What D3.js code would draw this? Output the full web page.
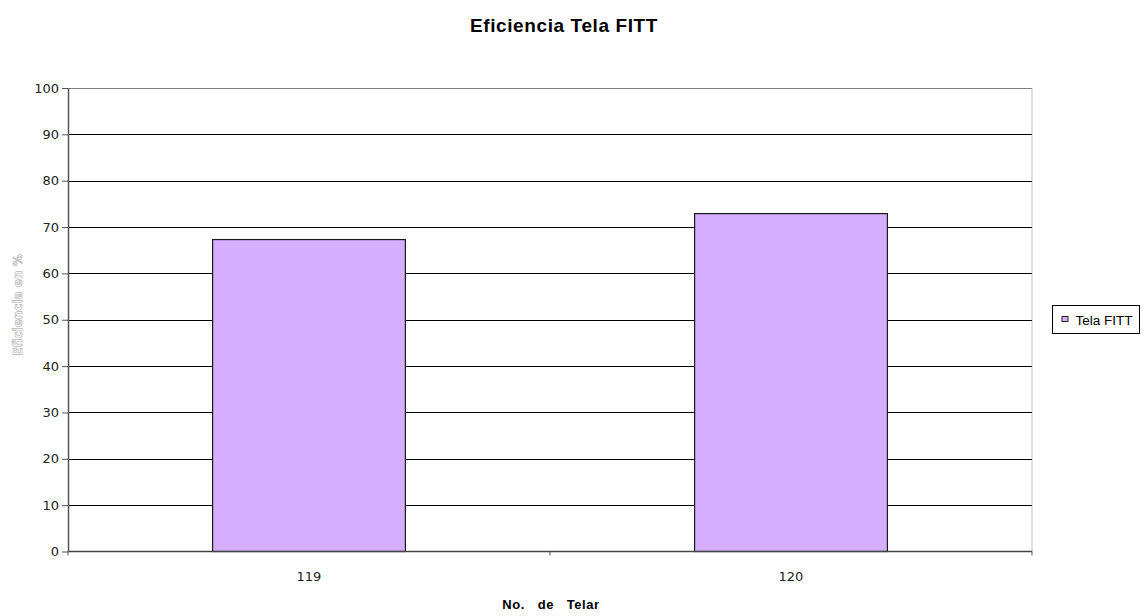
<!DOCTYPE html>
<html>
<head>
<meta charset="utf-8">
<script src="https://cdn.jsdelivr.net/npm/d3@7"></script>
<style>
  html, body { margin: 0; padding: 0; background: #fff; }
  svg { display: block; }
</style>
</head>
<body>
<svg id="chart" width="1145" height="616"></svg>
<script>
// Loom efficiency data
const categories = ["119", "120"];
const seriesName = "Tela FITT";
const values = [67.3, 72.9];
const yTicks = [0, 10, 20, 30, 40, 50, 60, 70, 80, 90, 100];

const svg = d3.select("#chart");
const plot = { left: 68, right: 1032, top: 88, bottom: 551.5 };

const x = d3.scaleBand().domain(categories).range([plot.left, plot.right]).padding(0);
const y = d3.scaleLinear().domain([0, 100]).range([plot.bottom, plot.top]);
const barW = x.bandwidth() * 0.4;

const tickFont = "'DejaVu Sans', Verdana, sans-serif";
const headFont = "'Liberation Sans', Arial, sans-serif";

// Title
svg.append("text")
  .attr("x", 564).attr("y", 32)
  .attr("text-anchor", "middle")
  .attr("font-family", headFont)
  .attr("font-weight", "bold").attr("font-size", 19)
  .attr("letter-spacing", 0.6)
  .attr("fill", "#000")
  .text("Eficiencia Tela FITT");

// Plot frame (right light border)
svg.append("line")
  .attr("x1", plot.right).attr("x2", plot.right)
  .attr("y1", plot.top).attr("y2", plot.bottom)
  .attr("stroke", "#c0c0c0").attr("stroke-width", 1);

// Horizontal gridlines
svg.append("g").selectAll("line").data(yTicks.filter(d => d > 0)).join("line")
  .attr("x1", plot.left).attr("x2", plot.right)
  .attr("y1", d => Math.round(y(d)) + 0.5).attr("y2", d => Math.round(y(d)) + 0.5)
  .attr("stroke", d => d === 100 ? "#808080" : "#000")
  .attr("stroke-width", 1);

// Bars
svg.append("g").selectAll("rect").data(values).join("rect")
  .attr("x", (d, i) => x(categories[i]) + x.bandwidth() / 2 - barW / 2)
  .attr("y", d => y(d))
  .attr("width", barW)
  .attr("height", d => plot.bottom - y(d))
  .attr("fill", "#d6aeff")
  .attr("stroke", "#1a1a1a").attr("stroke-width", 1.2);

// Y axis
const yAxis = d3.axisLeft(y).tickValues(yTicks).tickSize(6).tickSizeOuter(0).tickPadding(3);
const gy = svg.append("g").attr("transform", `translate(${plot.left},0)`).call(yAxis);
gy.select(".domain").attr("stroke", "#555").attr("stroke-width", 1.5);
gy.selectAll(".tick line").attr("stroke", "#555");
gy.selectAll(".tick text")
  .attr("font-family", tickFont).attr("font-size", 13).attr("fill", "#222");

// X axis: ticks sit on category boundaries
const xBounds = [plot.left, ...categories.slice(1).map(c => x(c)), plot.right];
const gx = svg.append("g");
gx.append("line")
  .attr("x1", plot.left).attr("x2", plot.right)
  .attr("y1", plot.bottom).attr("y2", plot.bottom)
  .attr("stroke", "#444").attr("stroke-width", 1.5);
gx.selectAll("line.tk").data(xBounds).join("line").attr("class", "tk")
  .attr("x1", d => d).attr("x2", d => d)
  .attr("y1", plot.bottom).attr("y2", plot.bottom + 4)
  .attr("stroke", "#555");
gx.selectAll("text").data(categories).join("text")
  .attr("x", d => x(d) + x.bandwidth() / 2)
  .attr("y", 581)
  .attr("text-anchor", "middle")
  .attr("font-family", tickFont).attr("font-size", 13).attr("fill", "#222")
  .text(d => d);

// X axis title
svg.append("text")
  .attr("x", 551).attr("y", 609)
  .attr("text-anchor", "middle")
  .attr("font-family", headFont)
  .attr("font-weight", "bold").attr("font-size", 13)
  .attr("letter-spacing", 0.6)
  .style("white-space", "pre")
  .attr("fill", "#000")
  .text("No.   de   Telar");

// Y axis title (outlined lettering)
svg.append("text")
  .attr("transform", "translate(22,305) rotate(-90)")
  .attr("text-anchor", "middle")
  .attr("font-family", tickFont)
  .attr("font-weight", "bold").attr("font-size", 12)
  .attr("fill", "#fff").attr("stroke", "#b8b8b8").attr("stroke-width", 0.7)
  .text("Eficiencia en %");

// Legend
const lg = svg.append("g").attr("transform", "translate(1052.5,305.5)");
lg.append("rect").attr("width", 87).attr("height", 28)
  .attr("fill", "#fff").attr("stroke", "#000").attr("stroke-width", 1);
lg.append("rect").attr("x", 9.5).attr("y", 11).attr("width", 6).attr("height", 5)
  .attr("fill", "#d6aeff").attr("stroke", "#222").attr("stroke-width", 1);
lg.append("text").attr("x", 23).attr("y", 19.5)
  .attr("font-family", headFont)
  .attr("font-size", 13.5).attr("fill", "#000")
  .text(seriesName);
</script>
</body>
</html>
